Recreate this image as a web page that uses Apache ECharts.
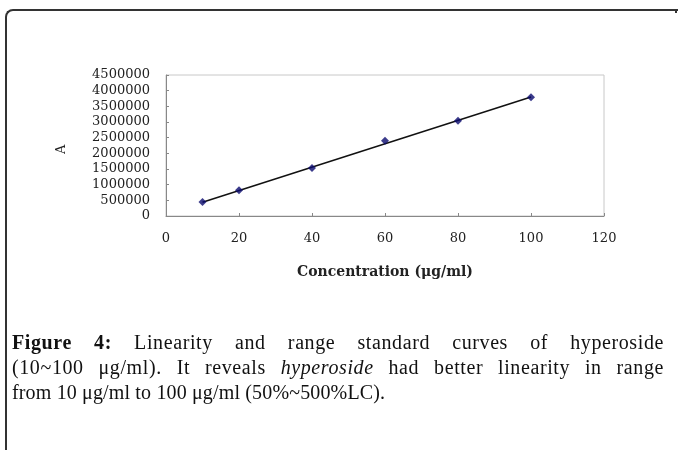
<!DOCTYPE html>
<html>
<head>
<meta charset="utf-8">
<script src="https://cdn.jsdelivr.net/npm/echarts@6/dist/echarts.min.js"></script>
<style>
  html, body { margin: 0; padding: 0; background: #fff; }
  #wrap { position: relative; width: 678px; height: 450px; overflow: hidden; background: #fff; }
  #frame { position: absolute; left: 5px; top: 9px; width: 700px; height: 500px;
           border-left: 2px solid #333; border-top: 2px solid #333; border-top-left-radius: 8px; box-sizing: border-box; }
  #rtick { position: absolute; left: 675px; top: 9px; width: 2px; height: 4px; background: #333; }
  #chart { position: absolute; left: 0; top: 0; width: 678px; height: 450px; }
  #caption { position: absolute; left: 12px; top: 330px; width: 652px;
             font-family: "Liberation Serif", "Times New Roman", serif; font-size: 20px; line-height: 25px;
             color: #111; }
  #caption .j { text-align: justify; text-align-last: justify; white-space: nowrap; letter-spacing: 0.6px; }
  #caption .l { text-align: left; white-space: nowrap; letter-spacing: 0.15px; }
</style>
</head>
<body>
<div id="wrap">
  <div id="chart"></div>
  <div id="frame"></div>
  <div id="rtick"></div>
  <div id="caption">
    <div class="j"><b>Figure 4:</b> Linearity and range standard curves of hyperoside</div>
    <div class="j">(10~100 μg/ml). It reveals <i>hyperoside</i> had better linearity in range</div>
    <div class="l">from 10 μg/ml to 100 μg/ml (50%~500%LC).</div>
  </div>
</div>
<script>
// Data
var concentration = [10, 20, 40, 60, 80, 100];
var peakArea = [450000, 820000, 1530000, 2400000, 3040000, 3790000];
// Fitted trend line end points
var trendX = [10, 100];
var trendY = [440000, 3800000];
var xTicks = [0, 20, 40, 60, 80, 100, 120];
var yTicks = [0, 500000, 1000000, 1500000, 2000000, 2500000, 3000000, 3500000, 4000000, 4500000];

var chart = echarts.init(document.getElementById('chart'), null, { renderer: 'canvas' });
var tickFont = { fontFamily: 'DejaVu Serif', fontSize: 13, color: '#222' };
chart.setOption({
  animation: false,
  grid: { left: 166, right: 74, top: 75, bottom: 234, show: true, borderColor: '#c8c8c8', borderWidth: 1 },
  xAxis: {
    type: 'value', min: xTicks[0], max: xTicks[xTicks.length - 1], interval: 20,
    axisLine: { show: true, lineStyle: { color: '#888', width: 1 } },
    axisTick: { show: true, inside: true, length: 3, lineStyle: { color: '#888' } },
    splitLine: { show: false },
    axisLabel: Object.assign({ margin: 16 }, tickFont)
  },
  yAxis: {
    type: 'value', min: yTicks[0], max: yTicks[yTicks.length - 1], interval: 500000,
    axisLine: { show: true, lineStyle: { color: '#888', width: 1 } },
    axisTick: { show: true, inside: true, length: 3, lineStyle: { color: '#888' } },
    splitLine: { show: false },
    axisLabel: Object.assign({ margin: 16, formatter: function (v) { return String(v); } }, tickFont)
  },
  graphic: [
    { type: 'text', x: 385, y: 265, z: 10,
      style: { text: 'Concentration (μg/ml)', textAlign: 'center', fontFamily: 'DejaVu Serif', fontWeight: 'bold', fontSize: 14, fill: '#222' } },
    { type: 'text', x: 55, y: 154, rotation: Math.PI / 2, z: 10,
      style: { text: 'A', fontFamily: 'DejaVu Serif', fontSize: 13, fill: '#222' } }
  ],
  series: [
    { type: 'line', data: trendX.map(function (x, i) { return [x, trendY[i]]; }),
      symbol: 'none', lineStyle: { color: '#111', width: 1.5 }, z: 2 },
    { type: 'scatter', data: concentration.map(function (x, i) { return [x, peakArea[i]]; }),
      symbol: 'diamond', symbolSize: 8, itemStyle: { color: '#0a0a6e' }, z: 3 }
  ]
});
</script>
</body>
</html>
